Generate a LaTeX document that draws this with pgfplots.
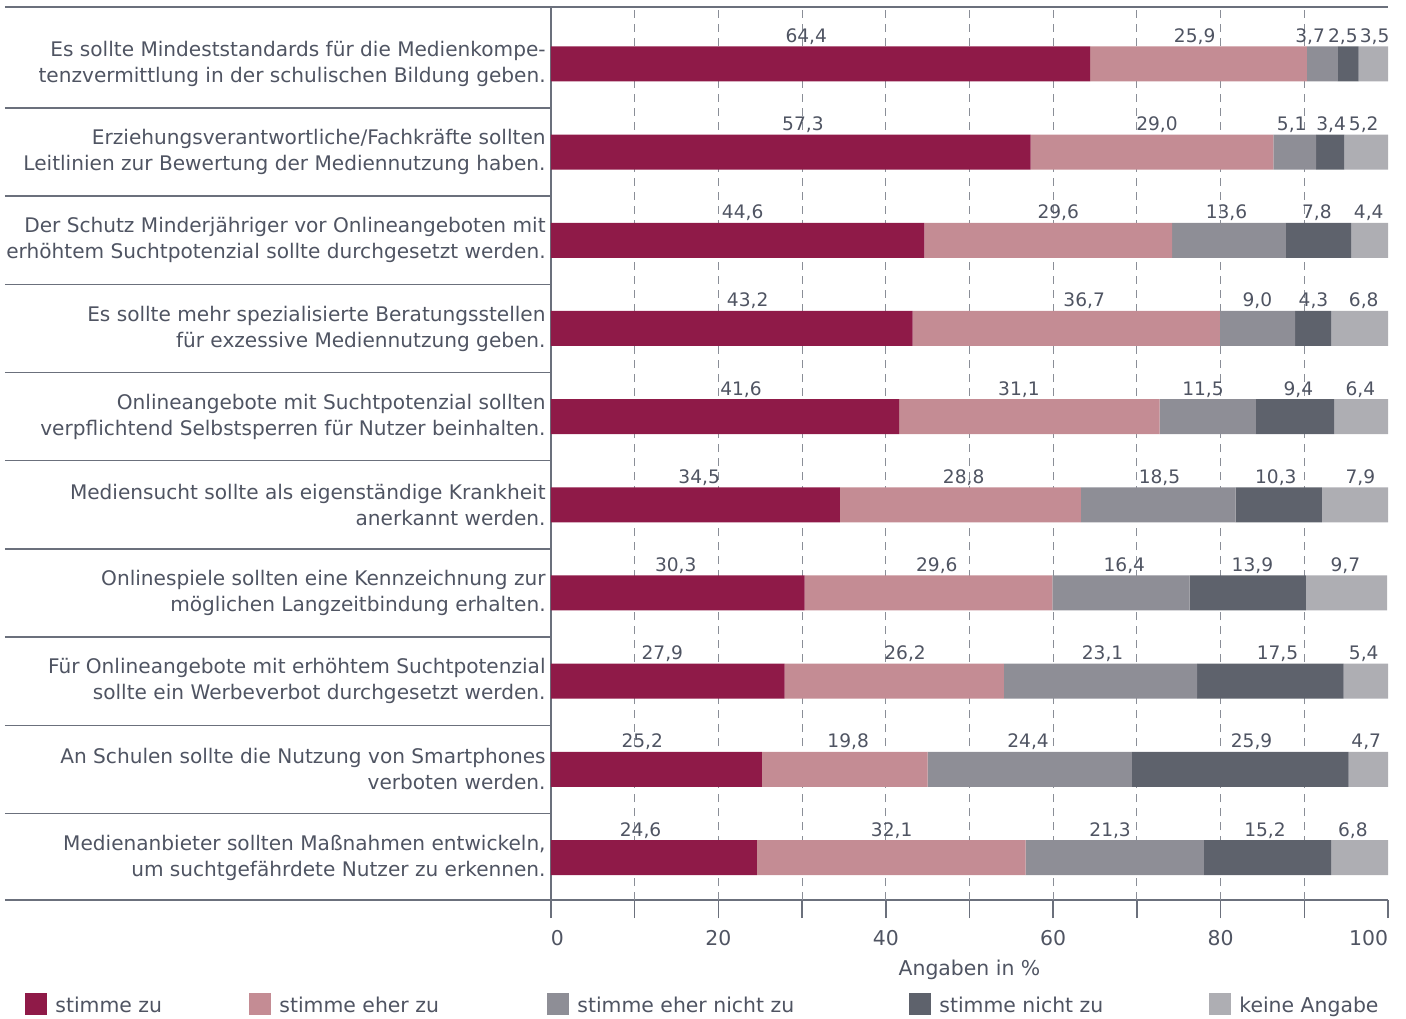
\documentclass[border=0pt]{standalone}
\usepackage{pgfplots}
\pgfplotsset{compat=1.18}
\usepackage{pgfplotstable}
\usepackage{fontspec}
\setmainfont{DejaVu Sans}
\definecolor{cA}{HTML}{8F1A48}
\definecolor{cB}{HTML}{C48C94}
\definecolor{cC}{HTML}{8E8E96}
\definecolor{cD}{HTML}{5E626C}
\definecolor{cE}{HTML}{AEAEB3}
\definecolor{txt}{HTML}{4F5462}
\definecolor{ln}{HTML}{6B707C}
\definecolor{grd}{HTML}{8A8E97}

% values (a..e) and label positions (pa..pe), row 10 = top
\pgfplotstableread{
row a    b    c    d    e    pa   pb   pc   pd   pe
10  64.4 25.9 3.7  2.5  3.5  30.5 76.9 90.7 94.6 98.4
9   57.3 29.0 5.1  3.4  5.2  30.1 72.4 88.5 93.2 97.1
8   44.6 29.6 13.6 7.8  4.4  22.9 60.6 80.7 91.5 97.7
7   43.2 36.7 9.0  4.3  6.8  23.5 63.7 84.4 91.1 97.1
6   41.6 31.1 11.5 9.4  6.4  22.7 55.9 77.9 89.3 96.7
5   34.5 28.8 18.5 10.3 7.9  17.7 49.3 72.7 86.6 96.7
4   30.3 29.6 16.4 13.9 9.7  14.9 46.1 68.5 83.8 94.9
3   27.9 26.2 23.1 17.5 5.4  13.3 42.3 65.9 86.8 97.1
2   25.2 19.8 24.4 25.9 4.7  10.9 35.5 57.0 83.7 97.4
1   24.6 32.1 21.3 15.2 6.8  10.7 40.7 66.8 85.3 95.8
}\data

\newcommand{\tf}{\fontsize{10.2}{13}\selectfont}
\newcommand{\lf}{\fontsize{10.05}{13}\selectfont}

\begin{document}
\begin{tikzpicture}
\useasboundingbox (-275.5pt,-59pt) rectangle (427.5pt,450pt);
\begin{axis}[
  at={(0pt,0pt)}, anchor=south west,
  scale only axis, width=418.5pt, height=446.5pt,
  xmin=0, xmax=100, ymin=0.518, ymax=10.646,
  xbar stacked, bar width=17.5pt,
  separate axis lines,
  axis x line*=box, axis y line*=left,
  axis line style={ln, line width=0.75pt},
  tick pos=left, tick align=outside, major tick length=9pt,
  tick style={ln, line width=0.75pt},
  xtick={0,20,...,100},
  xticklabels={\makebox[0pt][l]{0},20,40,60,80,\makebox[0pt][r]{100}},
  xticklabel style={font=\tf, text=txt, yshift=-2.5pt},
  extra x ticks={10,20,...,90},
  extra x tick labels={},
  extra x tick style={xmajorgrids=true,
     major grid style={grd, dash pattern=on 4pt off 3pt, line width=0.5pt}},
  ytick={1,...,10},
  ytick style={draw=none},
  yticklabels={
    {Medienanbieter sollten Maßnahmen entwickeln,\\um suchtgefährdete Nutzer zu erkennen.},
    {An Schulen sollte die Nutzung von Smartphones\\verboten werden.},
    {Für Onlineangebote mit erhöhtem Suchtpotenzial\\sollte ein Werbeverbot durchgesetzt werden.},
    {Onlinespiele sollten eine Kennzeichnung zur\\möglichen Langzeitbindung erhalten.},
    {Mediensucht sollte als eigenständige Krankheit\\anerkannt werden.},
    {Onlineangebote mit Suchtpotenzial sollten\\verpflichtend Selbstsperren für Nutzer beinhalten.},
    {Es sollte mehr spezialisierte Beratungsstellen\\für exzessive Mediennutzung geben.},
    {Der Schutz Minderjähriger vor Onlineangeboten mit\\erhöhtem Suchtpotenzial sollte durchgesetzt werden.},
    {Erziehungsverantwortliche/Fachkräfte sollten\\Leitlinien zur Bewertung der Mediennutzung haben.},
    {Es sollte Mindeststandards für die Medienkompe-\\tenzvermittlung in der schulischen Bildung geben.}},
  yticklabel style={font=\lf, text=txt, align=right, anchor=east, inner sep=0pt, xshift=6.5pt},
  extra y ticks={0.518,1.5,2.5,3.5,4.5,5.5,6.5,7.5,8.5,9.5,10.646},
  extra y tick labels={},
  extra y tick style={ytick style={draw=ln, line width=0.75pt}, major tick length=273pt},
  xlabel={Angaben in \%},
  xlabel style={at={(0.5,0)}, anchor=base, yshift=-37.5pt, font=\tf, text=txt},
  legend columns=5,
  legend image code/.code={\fill[#1] (0pt,-1.5pt) rectangle (11pt,9.5pt);},
  legend style={at={(-0.6284,-0.1165)}, anchor=west, draw=none, fill=none,
     inner sep=0pt, column sep=0pt, font=\tf, text=txt,
     nodes={inner sep=0pt, anchor=base west},
     /tikz/every odd column/.append style={column sep=4pt}},
  legend cell align=left,
]
\addplot[fill=cA, draw=none] table[x=a, y=row] {\data};
\addplot[fill=cB, draw=none] table[x=b, y=row] {\data};
\addplot[fill=cC, draw=none] table[x=c, y=row] {\data};
\addplot[fill=cD, draw=none] table[x=d, y=row] {\data};
\addplot[fill=cE, draw=none] table[x=e, y=row] {\data};
\addlegendentry{\makebox[97pt][l]{stimme zu}}
\addlegendentry{\makebox[134pt][l]{stimme eher zu}}
\addlegendentry{\makebox[166pt][l]{stimme eher nicht zu}}
\addlegendentry{\makebox[135pt][l]{stimme nicht zu}}
\addlegendentry{keine Angabe}
\end{axis}
\begin{axis}[
  at={(0pt,0pt)}, anchor=south west,
  scale only axis, width=418.5pt, height=446.5pt,
  xmin=0, xmax=100, ymin=0.518, ymax=10.646,
  hide axis, clip=false,
  point meta=explicit,
  nodes near coords={\pgfmathprintnumber[fixed,fixed zerofill,precision=1,use comma,assume math mode=true]{\pgfplotspointmeta}},
  nodes near coords style={anchor=base, inner sep=0pt, yshift=10.75pt,
     font=\fontsize{9.3}{12}\selectfont, text=txt},
]
\addplot[draw=none, mark=none] table[x=pa, y=row, meta=a] {\data};
\addplot[draw=none, mark=none] table[x=pb, y=row, meta=b] {\data};
\addplot[draw=none, mark=none] table[x=pc, y=row, meta=c] {\data};
\addplot[draw=none, mark=none] table[x=pd, y=row, meta=d] {\data};
\addplot[draw=none, mark=none] table[x=pe, y=row, meta=e] {\data};
\end{axis}
\end{tikzpicture}
\end{document}
